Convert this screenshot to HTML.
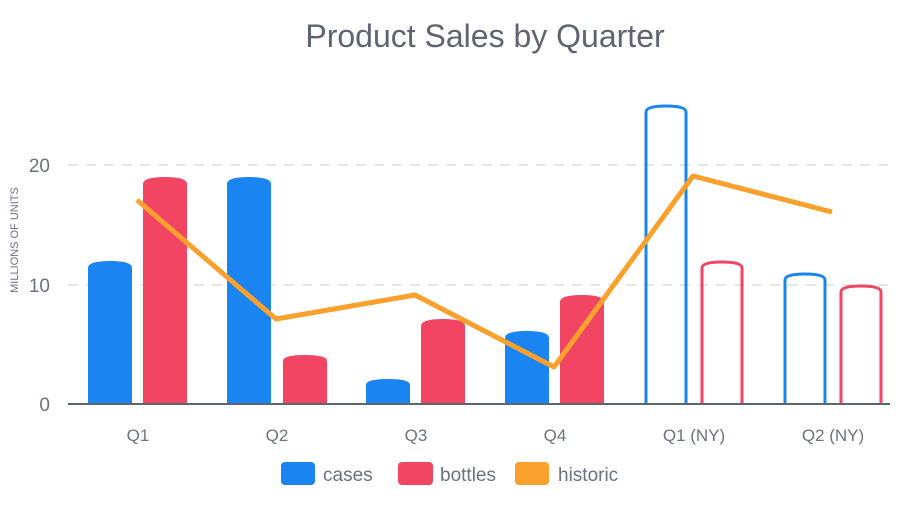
<!DOCTYPE html>
<html><head><style>
body{margin:0;background:#fff;}
svg text{font-family:"Liberation Sans",sans-serif;}
</style></head><body>
<svg width="904" height="514" viewBox="0 0 904 514" xmlns="http://www.w3.org/2000/svg">
<rect width="904" height="514" fill="#fff"/>
<text x="485" y="47" text-anchor="middle" font-size="32" fill="#5f6570">Product Sales by Quarter</text>
<g stroke="#d8d8d8" stroke-width="1.2" stroke-dasharray="10,8">
<line x1="68" y1="165" x2="892" y2="165"/>
<line x1="68" y1="285" x2="892" y2="285"/>
</g>
<g font-size="19" fill="#6b7280" text-anchor="end">
<text x="50" y="172">20</text><text x="50" y="292">10</text><text x="50" y="411">0</text>
</g>
<text transform="translate(18,240) rotate(-90)" text-anchor="middle" font-size="11" fill="#6b7280">MILLIONS OF UNITS</text>
<g id="bars">
<path d="M88,404 V268 Q88,261 110,261 Q132,261 132,268 V404Z" fill="#1a84f0"/>
<path d="M143,404 V184 Q143,177 165,177 Q187,177 187,184 V404Z" fill="#f24463"/>
<path d="M227,404 V184 Q227,177 249,177 Q271,177 271,184 V404Z" fill="#1a84f0"/>
<path d="M283,404 V361 Q283,355 305,355 Q327,355 327,361 V404Z" fill="#f24463"/>
<path d="M366,404 V385 Q366,379 388,379 Q410,379 410,385 V404Z" fill="#1a84f0"/>
<path d="M421,404 V326 Q421,319 443,319 Q465,319 465,326 V404Z" fill="#f24463"/>
<path d="M505,404 V338 Q505,331 527,331 Q549,331 549,338 V404Z" fill="#1a84f0"/>
<path d="M560,404 V302 Q560,295 582,295 Q604,295 604,302 V404Z" fill="#f24463"/>
<path d="M646,404 V112 Q646,106 666,106 Q686,106 686,112 V404" fill="none" stroke="#1a84f0" stroke-width="3"/>
<path d="M702,404 V268 Q702,262 722,262 Q742,262 742,268 V404" fill="none" stroke="#f24463" stroke-width="3"/>
<path d="M785,404 V280 Q785,274 805,274 Q825,274 825,280 V404" fill="none" stroke="#1a84f0" stroke-width="3"/>
<path d="M841,404 V292 Q841,286 861,286 Q881,286 881,292 V404" fill="none" stroke="#f24463" stroke-width="3"/>
</g>
<line x1="68" y1="404" x2="890" y2="404" stroke="#5f6570" stroke-width="2"/>
<polyline points="137,200 276,319 415,295 554,367 693,176 832,212" fill="none" stroke="#f9a12c" stroke-width="5" stroke-linejoin="round"/>
<g font-size="17" fill="#6b7280" text-anchor="middle">
<text x="138" y="441">Q1</text><text x="277" y="441">Q2</text><text x="416" y="441">Q3</text><text x="555" y="441">Q4</text><text x="694" y="441">Q1 (NY)</text><text x="833" y="441">Q2 (NY)</text>
</g>
<rect x="281" y="462" width="34" height="23" rx="4" fill="#1a84f0"/>
<rect x="398" y="462" width="35" height="23" rx="4" fill="#f24463"/>
<rect x="515" y="462" width="34" height="23" rx="4" fill="#f9a12c"/>
<g font-size="19" fill="#6b7280">
<text x="323" y="481">cases</text><text x="440" y="481">bottles</text><text x="558" y="481">historic</text>
</g>
</svg>
</body></html>
